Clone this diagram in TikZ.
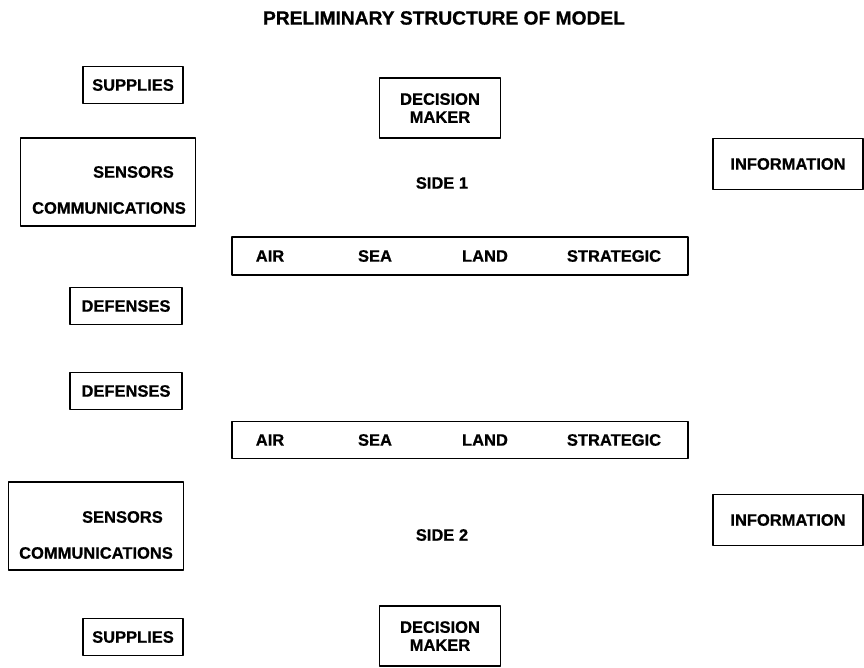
\documentclass[tikz,border=0pt]{standalone}
\usepackage{fontspec}
\setmainfont{Liberation Sans}[BoldFeatures={FakeBold=0.8}]
\begin{document}
\begin{tikzpicture}[x=1pt, y=-1pt, line join = round, line cap = round,
    box/.style={draw, line width=1.1pt, inner sep=0pt},
    lbl/.style={font=\fontsize{16.5}{18}\selectfont\bfseries, inner sep=0pt}]
      \useasboundingbox (0,0) rectangle (864,668);

      \node[lbl, font=\fontsize{19.2}{21}\selectfont\bfseries] (title) at (444,18) {PRELIMINARY STRUCTURE OF MODEL};

      % side 1
      \node[box, lbl, minimum width=100pt, minimum height=37pt] (sup1) at (133,85) {SUPPLIES};
      \node[box, lbl, align=center, minimum width=121pt, minimum height=60pt] (dm1) at (440,108) {DECISION\\MAKER};
      \node[box, lbl, minimum width=150pt, minimum height=51pt] (info1) at (788,164) {INFORMATION};
      \node[box, minimum width=175pt, minimum height=88pt] (sc1) at (108,182) {};
      \node[lbl, anchor=east] (sen1) at (174,172) {SENSORS};
      \node[lbl] (com1) at (109,208) {COMMUNICATIONS};
      \node[lbl] (side1) at (442,183) {SIDE 1};
      \node[box, minimum width=456pt, minimum height=38pt] (bar1) at (460,256) {};
      \node[lbl] (air1) at (270,256) {AIR};
      \node[lbl] (sea1) at (375,256) {SEA};
      \node[lbl] (land1) at (485,256) {LAND};
      \node[lbl] (str1) at (614,256) {STRATEGIC};
      \node[box, lbl, minimum width=112pt, minimum height=37pt] (def1) at (126,306) {DEFENSES};

      % side 2
      \node[box, lbl, minimum width=112pt, minimum height=37pt] (def2) at (126,391) {DEFENSES};
      \node[box, minimum width=456pt, minimum height=37pt] (bar2) at (460,440) {};
      \node[lbl] (air2) at (270,440) {AIR};
      \node[lbl] (sea2) at (375,440) {SEA};
      \node[lbl] (land2) at (485,440) {LAND};
      \node[lbl] (str2) at (614,440) {STRATEGIC};
      \node[box, minimum width=175pt, minimum height=88pt] (sc2) at (96,526) {};
      \node[lbl, anchor=east] (sen2) at (163,517) {SENSORS};
      \node[lbl] (com2) at (96,553) {COMMUNICATIONS};
      \node[lbl] (side2) at (442,535) {SIDE 2};
      \node[box, lbl, minimum width=150pt, minimum height=51pt] (info2) at (788,520) {INFORMATION};
      \node[box, lbl, minimum width=100pt, minimum height=37pt] (sup2) at (133,637) {SUPPLIES};
      \node[box, lbl, align=center, minimum width=121pt, minimum height=60pt] (dm2) at (440,636) {DECISION\\MAKER};
    \end{tikzpicture}
\end{document}
